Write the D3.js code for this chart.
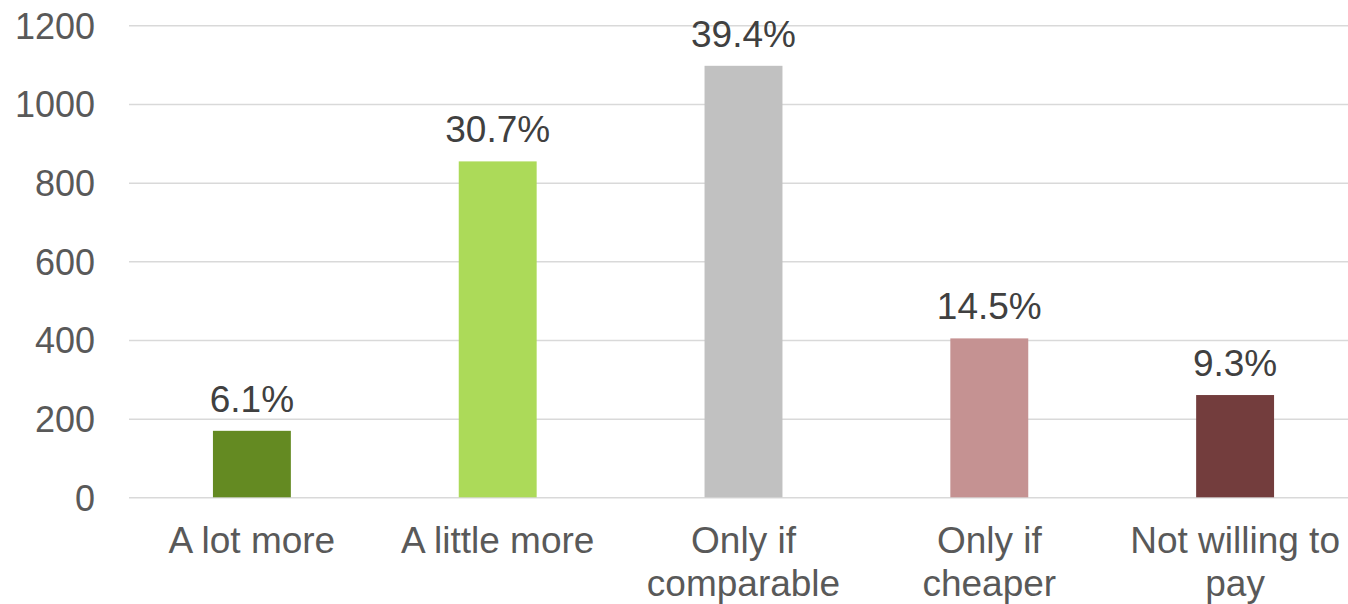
<!DOCTYPE html>
<html>
<head>
<meta charset="utf-8">
<script src="https://cdn.jsdelivr.net/npm/d3@7"></script>
<style>
  html, body { margin: 0; padding: 0; background: #fff; overflow: hidden; }
  svg { display: block; font-family: "Liberation Sans", Arial, sans-serif; }
</style>
</head>
<body>
<svg id="chart" width="1348" height="604"></svg>
<script>
// Willingness to pay: respondent counts per answer
const categories = ["A lot more", "A little more", "Only if\ncomparable", "Only if\ncheaper", "Not willing to\npay"];
const counts = [169, 854, 1097, 404, 260];
const barColors = ["#648a22", "#acda59", "#c1c1c1", "#c59292", "#733d3d"];
const yTicks = [0, 200, 400, 600, 800, 1000, 1200];

const width = 1348, height = 604;
const plot = { left: 129, right: 1358, top: 25.3, bottom: 497.3 };

const svg = d3.select("#chart");
const total = d3.sum(counts);
const pct = d3.format(".1%");

const x = d3.scaleBand()
  .domain(categories)
  .range([plot.left, plot.right])
  .paddingInner(0.683)
  .paddingOuter(0.3415);

const y = d3.scaleLinear()
  .domain([0, 1200])
  .range([plot.bottom, plot.top]);

// horizontal gridlines and value ticks
const yAxis = svg.append("g")
  .attr("transform", `translate(${plot.left},0)`)
  .call(d3.axisLeft(y).tickValues(yTicks).tickFormat(d3.format("d"))
    .tickSize(-(plot.right - plot.left)).tickPadding(34));
yAxis.select(".domain").remove();
yAxis.selectAll(".tick line").attr("stroke", "#d9d9d9").attr("stroke-width", 1.5);
yAxis.selectAll(".tick text")
  .attr("fill", "#595959")
  .attr("font-size", 36)
  .attr("dy", "0.36em");

// bars
svg.append("g").selectAll("rect")
  .data(counts)
  .join("rect")
  .attr("x", (d, i) => x(categories[i]))
  .attr("width", x.bandwidth())
  .attr("y", d => y(d))
  .attr("height", d => y(0) - y(d))
  .attr("fill", (d, i) => barColors[i]);

// share-of-total labels above bars
svg.append("g").selectAll("text")
  .data(counts)
  .join("text")
  .attr("x", (d, i) => x(categories[i]) + x.bandwidth() / 2)
  .attr("y", d => y(d) - 19)
  .attr("text-anchor", "middle")
  .attr("fill", "#404040")
  .attr("font-size", 37)
  .text(d => pct(d / total));

// category labels, wrapped on explicit breaks
const xAxis = svg.append("g")
  .attr("transform", `translate(0,${plot.bottom})`)
  .call(d3.axisBottom(x).tickSize(0).tickFormat(""));
xAxis.select(".domain").remove();
xAxis.selectAll(".tick").each(function(d) {
  const t = d3.select(this).append("text")
    .attr("text-anchor", "middle")
    .attr("fill", "#595959")
    .attr("font-size", 37)
    .attr("y", 56);
  d.split("\n").forEach((line, i) => {
    t.append("tspan").attr("x", 0).attr("dy", i === 0 ? 0 : 43).text(line);
  });
});
</script>
</body>
</html>
